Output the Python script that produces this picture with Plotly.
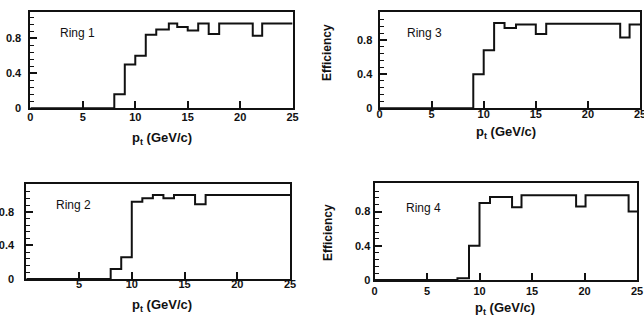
import plotly.graph_objects as go

# ---- data ----
ring1_edges = [0, 8, 9, 10, 11, 12, 13.2, 14.0, 15, 16, 17, 18, 21.2, 22.1, 25]
ring1_eff = [0, 0.16, 0.5, 0.6, 0.84, 0.9, 0.97, 0.93, 0.89, 0.97, 0.85, 0.97, 0.83, 0.97]

ring3_edges = [0, 9, 10, 11, 12, 13.1, 15, 16, 23.1, 24, 25]
ring3_eff = [0, 0.4, 0.68, 1.0, 0.94, 0.98, 0.87, 0.99, 0.83, 0.98]

ring2_edges = [0, 8, 9, 10, 11, 12, 13, 14, 16, 17, 25]
ring2_eff = [0, 0.12, 0.26, 0.92, 0.96, 1.0, 0.96, 1.0, 0.89, 1.0]

ring4_edges = [0, 7.9, 9, 10, 11, 13.1, 14.0, 19.2, 20.1, 24.2, 25]
ring4_eff = [0, 0.02, 0.4, 0.9, 0.97, 0.85, 0.99, 0.86, 0.99, 0.8]

ring_names = ["Ring 1", "Ring 3", "Ring 2", "Ring 4"]
x_ticks = [0, 5, 10, 15, 20, 25]
x_ticks_ring2 = [5, 10, 15, 20, 25]
y_ticks = [0, 0.4, 0.8]
y_ticktext = ["0", "0.4", "0.8"]
x_title = "p<sub>t</sub> (GeV/c)"
y_title = "Efficiency"

W, H = 644, 320
INK = "#111111"
FONT = "Liberation Sans, Arial, sans-serif"

panels = [
    # edges, values, xdomain px, ydomain px (bottom, top), ymax, xticks, x-label shift, y-label shift
    (ring1_edges, ring1_eff, (30.4, 292.6), (108.3, 11.7), 1.104, x_ticks, -3, 5),
    (ring3_edges, ring3_eff, (379.5, 640.0), (108.3, 11.7), 1.131, x_ticks, -6, 3),
    (ring2_edges, ring2_eff, (26.3, 290.0), (279.0, 184.0), 1.13, x_ticks_ring2, -6, 8),
    (ring4_edges, ring4_eff, (374.5, 637.0), (280.0, 183.3), 1.13, x_ticks, 0, 0),
]

fig = go.Figure()
layout = {}
for i, (edges, vals, xd, yd, ymax, xt, xs, ys) in enumerate(panels):
    n = "" if i == 0 else str(i + 1)
    fig.add_trace(go.Scatter(
        x=edges, y=list(vals) + [vals[-1]],
        mode="lines", line=dict(shape="hv", color=INK, width=2),
        xaxis="x" + n, yaxis="y" + n, showlegend=False, hoverinfo="skip",
    ))
    layout["xaxis" + n] = dict(
        domain=[xd[0] / W, xd[1] / W], range=[0, 25], anchor="y" + n,
        tickvals=xt, ticks="inside", ticklen=7, tickwidth=1.5, tickcolor=INK,
        showline=True, linewidth=2, linecolor=INK, mirror=True,
        showgrid=False, zeroline=False, automargin=False,
        ticklabeloverflow="allow", ticklabelstandoff=xs,
        tickfont=dict(family=FONT, size=11, color=INK, weight="bold"),
    )
    layout["yaxis" + n] = dict(
        domain=[1 - yd[0] / H, 1 - yd[1] / H], range=[0, ymax], anchor="x" + n,
        tickvals=y_ticks, ticktext=y_ticktext, ticks="inside", ticklen=7,
        tickwidth=1.5, tickcolor=INK,
        minor=dict(dtick=0.08, tick0=0, ticks="inside", ticklen=4, tickcolor=INK, tickwidth=1),
        showline=True, linewidth=2, linecolor=INK, mirror=True,
        showgrid=False, zeroline=False, automargin=False,
        ticklabeloverflow="allow", ticklabelstandoff=ys,
        tickfont=dict(family=FONT, size=11, color=INK, weight="bold"),
    )

annotations = []
ring_pos = [(77, 33), (424.5, 33), (73, 205), (423.5, 208)]
for name, (px, py) in zip(ring_names, ring_pos):
    annotations.append(dict(x=px / W, y=1 - py / H, xref="paper", yref="paper",
                            text=name, showarrow=False, xanchor="center", yanchor="middle",
                            font=dict(family=FONT, size=12, color=INK)))
xt_pos = [(162, 138), (506, 132), (162, 305), (505, 308)]
for px, py in xt_pos:
    annotations.append(dict(x=px / W, y=1 - py / H, xref="paper", yref="paper",
                            text=x_title, showarrow=False, xanchor="center", yanchor="middle",
                            font=dict(family=FONT, size=13, color=INK, weight="bold")))
for px, py in [(327, 53), (328, 233)]:
    annotations.append(dict(x=px / W, y=1 - py / H, xref="paper", yref="paper",
                            text=y_title, textangle=-90, showarrow=False,
                            xanchor="center", yanchor="middle",
                            font=dict(family=FONT, size=12, color=INK, weight="bold")))

fig.update_layout(
    width=W, height=H, margin=dict(l=0, r=0, t=0, b=0),
    paper_bgcolor="white", plot_bgcolor="white",
    annotations=annotations, **layout,
)
fig.write_html("out.html")
